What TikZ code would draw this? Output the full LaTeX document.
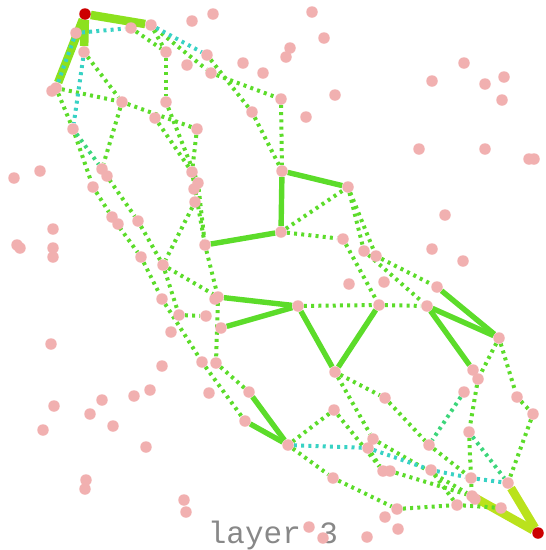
\documentclass[tikz,border=0pt]{standalone}
\usepackage{fontspec}
\newfontfamily\labelfont{Liberation Mono}
\usetikzlibrary{backgrounds}
\definecolor{dotpink}{RGB}{241,176,176}
\definecolor{endred}{RGB}{204,0,0}
\definecolor{edgegreen}{RGB}{92,220,42}
\definecolor{edgeteal}{RGB}{56,210,196}
\definecolor{edgemix}{RGB}{60,214,122}
\definecolor{topbold}{RGB}{140,225,30}
\definecolor{botbold}{RGB}{186,226,28}
\definecolor{labelgray}{RGB}{136,136,136}

\begin{document}
\begin{tikzpicture}[x=1pt, y=-1pt,
vtx/.style={circle, fill=dotpink, inner sep=0pt, minimum size=11.5pt},
endvtx/.style={circle, fill=endred, inner sep=0pt, minimum size=11.5pt},
soledge/.style={line width=5.4pt, edgegreen},
boldedge/.style={line width=8.5pt},
dotedge/.style={line width=4pt, edgegreen, dash pattern=on 3pt off 4.2pt},
tealedge/.style={dotedge, edgeteal},
mixedge/.style={dotedge, edgemix}
]
\useasboundingbox (0,0) rectangle (546,550);

% end points
\node[endvtx] (s) at (85,14){};
\node[endvtx] (t) at (538,533){};

% upper left part
\node[vtx] (a1) at (76,33){};
\node[vtx] (a2) at (131,28){};
\node[vtx] (a3) at (151,25){};
\node[vtx] (a4) at (84,52){};
\node[vtx] (a5) at (56,88){};
\node[vtx] (a6) at (122,102){};
\node[vtx] (a7) at (166,52){};
\node[vtx] (a8) at (166,102){};
\node[vtx] (a9) at (155,118){};
\node[vtx] (a10) at (197,129){};
\node[vtx] (a11) at (73,129){};
\node[vtx] (a12) at (102,169){};
\node[vtx] (a13) at (93,187){};
\node[vtx] (a14) at (112,217){};
\node[vtx] (a15) at (138,221){};
\node[vtx] (a16) at (141,257){};
\node[vtx] (a17) at (163,265){};
\node[vtx] (b1) at (207,55){};
\node[vtx] (b2) at (211,73){};
\node[vtx] (b3) at (252,112){};
\node[vtx] (b4) at (281,99){};
\node[vtx] (b5) at (192,172){};
\node[vtx] (b6) at (198,183){};
\node[vtx] (b8) at (195,202){};

% middle part
\node[vtx] (c1) at (282,171){};
\node[vtx] (c2) at (348,187){};
\node[vtx] (c3) at (281,232){};
\node[vtx] (c4) at (205,245){};
\node[vtx] (c5) at (343,239){};
\node[vtx] (c6) at (364,251){};
\node[vtx] (c7) at (376,256){};
\node[vtx] (c8) at (218,297){};
\node[vtx] (c9) at (298,306){};
\node[vtx] (c10) at (379,305){};
\node[vtx] (c11) at (427,306){};
\node[vtx] (c12) at (437,287){};
\node[vtx] (c13) at (221,328){};
\node[vtx] (c14) at (162,299){};
\node[vtx] (c15) at (179,315){};
\node[vtx] (c16) at (206,316){};
\node[vtx] (c17) at (202,362){};
\node[vtx] (c18) at (216,363){};

% lower right part
\node[vtx] (d1) at (335,372){};
\node[vtx] (d2) at (499,338){};
\node[vtx] (d3) at (473,370){};
\node[vtx] (d4) at (478,379){};
\node[vtx] (d5) at (249,392){};
\node[vtx] (d6) at (245,421){};
\node[vtx] (d7) at (288,445){};
\node[vtx] (d8) at (385,398){};
\node[vtx] (d9) at (334,410){};
\node[vtx] (d10) at (464,392){};
\node[vtx] (d11) at (517,397){};
\node[vtx] (d12) at (533,414){};
\node[vtx] (d13) at (469,432){};
\node[vtx] (d14) at (429,445){};
\node[vtx] (d15) at (373,439){};
\node[vtx] (d16) at (368,448){};
\node[vtx] (d17) at (383,471){};
\node[vtx] (d18) at (390,471){};
\node[vtx] (d19) at (431,470){};
\node[vtx] (d20) at (471,478){};
\node[vtx] (d21) at (508,483){};
\node[vtx] (d22) at (333,478){};
\node[vtx] (d23) at (472,496){};
\node[vtx] (d24) at (457,505){};
\node[vtx] (d25) at (501,508){};
\node[vtx] (d26) at (397,509){};

% loose points
\foreach \x/\y [count=\k] in {192/21,213/14,187/65,243/63,263/73,312/12,324/38,290/48,286/57,
464/63,432/81,485/84,504/77,502/100,335/95,306/117,419/149,485/149,529/159,534/159,
445/215,432/249,463/261,349/284,384/282,14/178,40/171,107/176,52/91,53/229,17/245,20/248,
53/248,53/257,118/224,194/189,215/299,171/332,51/344,162/366,209/393,150/390,134/396,
102/400,54/406,90/414,113/426,43/430,146/447,86/480,85/489,184/500,186/512,385/517,
398/529,309/527,323/538,367/537,475/499}{\node[vtx] (q\k) at (\x,\y){};}

\begin{scope}[on background layer]
\node[labelgray, font=\labelfont\fontsize{31}{31}\selectfont, anchor=base] (cap) at (273,543) {layer 3};

\draw[boldedge, topbold] (s) -- (a3);
\draw[boldedge, topbold] (s) -- (a4);
\draw[boldedge, topbold] (s) -- (a5);
\draw[boldedge, botbold] (t) -- (d23);
\draw[boldedge, botbold] (t) -- (d21);

\foreach \i/\j in {c1/c2,c1/c3,c3/c4,c8/c9,c13/c9,c9/d1,d1/c10,c11/d2,c12/d2,c11/d3,d5/d7,d6/d7}{\draw[soledge] (\i) -- (\j);}

\foreach \i/\j in {a2/a7,a3/a7,a3/b2,a4/a6,a5/a6,a5/a11,a6/a12,a6/a10,a7/a8,a9/b5,a8/b6,a10/b5,
b1/b3,b2/b4,b3/c1,b4/c1,a11/a13,a13/a14,a14/a16,a12/a15,a15/a17,a16/c14,a17/c8,a17/c15,
b8/a17,b5/c4,b6/c4,c4/c8,c3/c2,c3/c5,c2/c6,c2/c7,c5/c10,c6/c11,c7/c12,c9/c10,c10/c11,
c14/c17,c15/c16,c8/c18,c17/d6,c18/d5,d2/d4,d4/d13,d13/d20,d2/d11,d11/d12,d12/d21,
d1/d8,d8/d14,d1/d15,d9/d7,d9/d17,d16/d17,d15/d23,d18/d23,d14/d20,d7/d22,d22/d26,
d26/d24,d24/d25,d19/d24,d20/d23}{\draw[dotedge] (\i) -- (\j);}

\foreach \i/\j in {a11/a12,d10/d14,d13/d21}{\draw[mixedge] (\i) -- (\j);}

\foreach \i/\j in {a1/a5,a1/a2,a3/b1,a4/a11,d7/d16,d16/d19,d19/d20,d20/d21}{\draw[tealedge] (\i) -- (\j);}
\end{scope}
\end{tikzpicture}
\end{document}
